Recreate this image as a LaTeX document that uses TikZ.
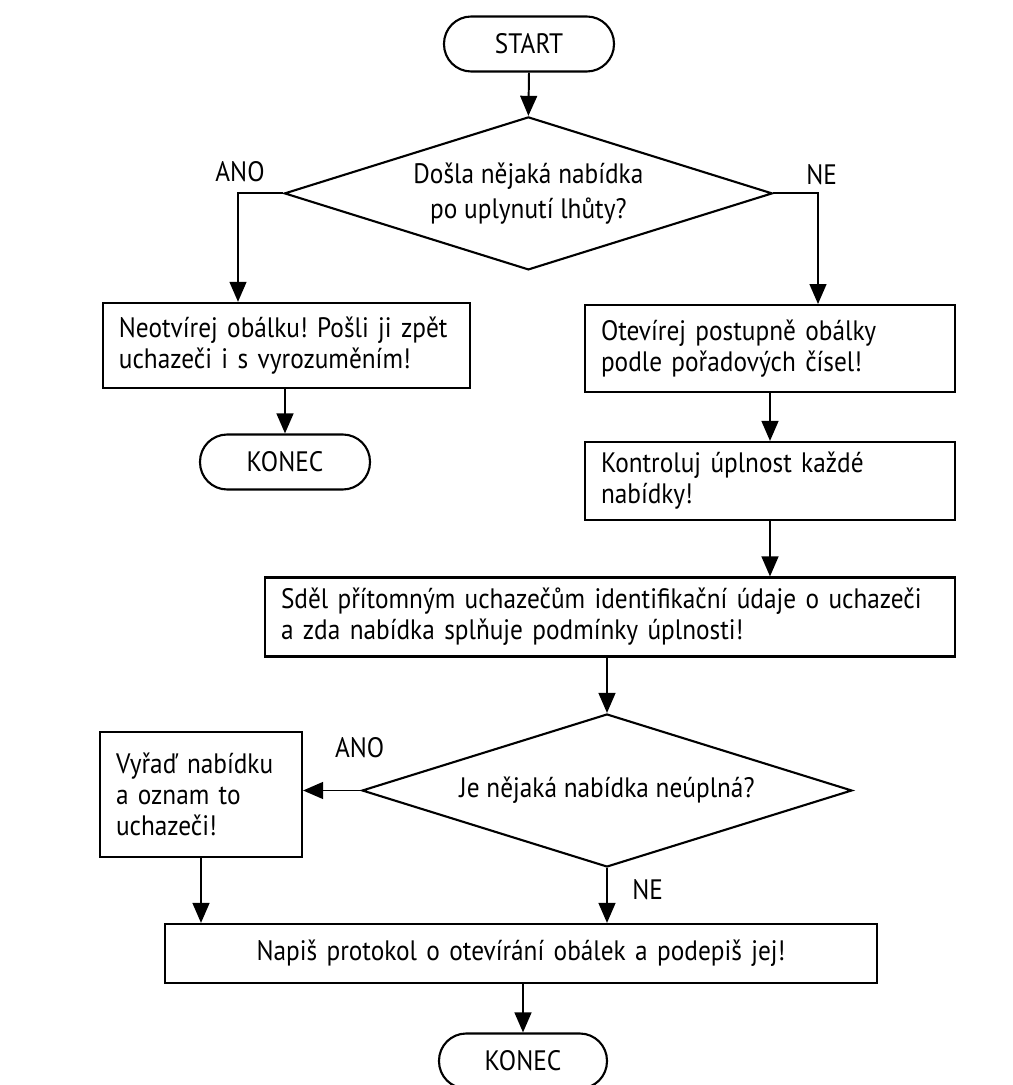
\documentclass[tikz,border=0pt]{standalone}
\usepackage{fontspec}
\setmainfont{PT Sans}[FakeStretch=0.9]
\usepackage{tikz}
\usetikzlibrary{shapes.geometric, arrows.meta, positioning}
\frenchspacing

\begin{document}
\begin{tikzpicture}[font=\fontsize{20}{22}\selectfont]
\tikzstyle{terminal} = [rectangle, draw, rounded corners=0.68cm, minimum width=4.25cm, minimum height=1.375cm, inner sep=0pt, line width=1.5pt]
\tikzstyle{stepbox} = [rectangle, draw, align=left, inner xsep=0.4cm, inner ysep=0pt, line width=1.5pt]
\tikzstyle{decision} = [diamond, draw, aspect=3.2, minimum width=12.2cm, minimum height=3.825cm, inner sep=0pt, align=center, line width=1.5pt, font=\fontsize{20}{24.5}\selectfont]
\tikzstyle{arrow} = [line width=1.4pt, -{Triangle[length=0.5cm, width=0.42cm]}]
\tikzstyle{answer} = [inner sep=0pt]

\useasboundingbox[fill=white] (0,0) rectangle (25.325,27.125);

\node (start) [terminal] at (13.225,26.025) {START};
\node (q1) [decision] at (13.21,22.29) {Došla nějaká nabídka\\po uplynutí lhůty?};
\node (reject) [stepbox, text width=8.375cm, minimum height=2.125cm] at (7.16,18.49) {Neotvírej obálku! Pošli ji zpět\\uchazeči i s vyrozuměním!};
\node (end1) [terminal] at (7.125,15.575) {KONEC};
\node (open) [stepbox, text width=8.45cm, minimum height=2.175cm] at (19.25,18.41) {Otevírej postupně obálky\\podle pořadových čísel!};
\node (check) [stepbox, text width=8.45cm, minimum height=1.95cm] at (19.25,15.1) {Kontroluj úplnost každé\\nabídky!};
\node (announce) [stepbox, text width=16.45cm, minimum height=1.975cm] at (15.25,11.7) {Sděl přítomným uchazečům identifikační údaje o uchazeči\\a zda nabídka splňuje podmínky úplnosti!};
\node (q2) [decision, minimum width=12.25cm] at (15.175,7.3625) {Je nějaká nabídka neúplná?};
\node (exclude) [stepbox, text width=4.25cm, minimum height=3.125cm] at (5.025,7.2625) {Vyřaď nabídku\\a oznam to\\uchazeči!};
\node (protocol) [stepbox, text width=17cm, align=center, minimum height=1.475cm] at (13.025,3.2875) {Napiš protokol o otevírání obálek a podepiš jej!};
\node (end2) [terminal, minimum width=4.2cm] at (13.075,0.6) {KONEC};

% answers
\node (yes1) [answer] at (6.0,22.825) {ANO};
\node (no1) [answer] at (20.54,22.75) {NE};
\node (yes2) [answer] at (8.99,8.425) {ANO};
\node (no2) [answer] at (16.19,4.875) {NE};

\draw [arrow] (start.south) -- (q1.north);
\draw [arrow] (q1.west) -| ([xshift=-1.21cm]reject.north);
\draw [arrow] (q1.east) -| ([xshift=1.2cm]open.north);
\draw [arrow] (end1.north |- reject.south) -- (end1.north);
\draw [arrow] (open.south) -- (open.south |- check.north);
\draw [arrow] (check.south) -- (check.south |- announce.north);
\draw [arrow] (q2.north |- announce.south) -- (q2.north);
\draw [arrow] (q2.west) -- (q2.west -| exclude.east);
\draw [arrow] (exclude.south) -- (exclude.south |- protocol.north);
\draw [arrow] (q2.south) -- (q2.south |- protocol.north);
\draw [arrow] (end2.north |- protocol.south) -- (end2.north);

\end{tikzpicture}
\end{document}
